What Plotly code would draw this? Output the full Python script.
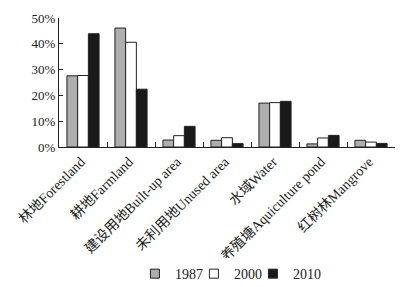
import plotly.graph_objects as go

categories = ["林地Forestland", "耕地Farmland", "建设用地Built-up area", "未利用地Unused area",
              "水域Water", "养殖塘Aquiculture pond", "红树林Mangrove"]
v1987 = [27.6, 46.1, 2.7, 2.6, 17.0, 1.2, 2.6]
v2000 = [27.7, 40.6, 4.4, 3.6, 17.2, 3.5, 1.9]
v2010 = [43.9, 22.4, 8.0, 1.3, 17.7, 4.5, 1.4]
years = ["1987", "2000", "2010"]
colors = ["#aeaeae", "#ffffff", "#1a1a1a"]
y_ticks = [0, 10, 20, 30, 40, 50]
y_tick_text = ["0%", "10%", "20%", "30%", "40%", "50%"]

fig = go.Figure()
for name, vals, c in zip(years, [v1987, v2000, v2010], colors):
    fig.add_trace(go.Bar(x=categories, y=vals, name=name, showlegend=False,
                         marker=dict(color=c, line=dict(color="#222222", width=1))))
# legend entries with small square symbols
for name, c in zip(years, colors):
    fig.add_trace(go.Scatter(x=[categories[0]], y=[None], mode="markers", name=name,
                             marker=dict(symbol="square", size=9, color=c,
                                         line=dict(color="#222222", width=1))))
# invisible spacer entry so the last legend label is not clipped
fig.add_trace(go.Scatter(x=[categories[0]], y=[None], mode="markers", name=" ",
                         marker=dict(size=1, color="rgba(0,0,0,0)", line=dict(width=0))))

font = "Liberation Serif, Times New Roman, Noto Sans CJK SC, serif"
fig.update_layout(
    width=410, height=287,
    margin=dict(l=59, r=15, t=18, b=140, autoexpand=False),
    paper_bgcolor="white", plot_bgcolor="white",
    barmode="group", bargap=0.33, bargroupgap=0,
    font=dict(family=font, size=13, color="#222222"),
    legend=dict(orientation="h", x=0.226, xanchor="left", y=-0.985, yanchor="middle",
                font=dict(size=14, family=font), itemwidth=30, traceorder="normal",
                entrywidth=14, entrywidthmode="pixels"),
    showlegend=True,
)
fig.update_xaxes(tickangle=-45, showline=True, linecolor="#222222", linewidth=1,
                 ticks="inside", tickson="boundaries", ticklen=5, tickcolor="#222222",
                 tickfont=dict(size=14, family=font), showgrid=False, ticklabelshift=-2,
                 automargin=False)
fig.update_yaxes(range=[0, 50], tickvals=y_ticks, ticktext=y_tick_text, showline=True,
                 linecolor="#222222", linewidth=1, ticks="inside", ticklen=4, tickcolor="#222222",
                 tickfont=dict(size=13, family=font), showgrid=False, zeroline=False,
                 automargin=False)
fig.write_html("out.html", config={"displayModeBar": False},
               post_script="document.body.style.margin='0';")
